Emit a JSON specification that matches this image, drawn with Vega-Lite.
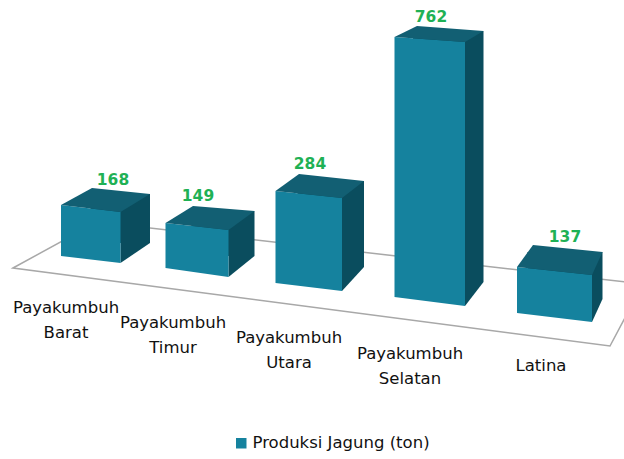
{
"$schema":"https://vega.github.io/schema/vega-lite/v6.json",
"width":624,"height":459,"padding":0,
"autosize":{"type":"fit","contains":"padding"},
"background":"#ffffff",
"config":{"view":{"stroke":null}},
"resolve":{"scale":{"shape":"independent"}},
"data":{"values":[
{"no":0,"kecamatan":"Payakumbuh Barat","produksi":168},
{"no":1,"kecamatan":"Payakumbuh Timur","produksi":149},
{"no":2,"kecamatan":"Payakumbuh Utara","produksi":284},
{"no":3,"kecamatan":"Payakumbuh Selatan","produksi":762},
{"no":4,"kecamatan":"Latina","produksi":137}
]},
"encoding":{
"x":{"field":"kecamatan","type":"nominal","sort":null,"axis":null,"scale":{"type":"band","range":[33,613],"paddingInner":0,"paddingOuter":0}},
"y":{"field":"produksi","type":"quantitative","axis":null,"scale":{"domain":[-504.2,788.76],"range":[459,0],"zero":false,"nice":false}}
},
"layer":[
{"transform":[{"filter":"datum.no==0"}],
"mark":{"type":"point","filled":false,"size":4,"opacity":1,"stroke":"#a8a8a8","strokeWidth":1.5,"shape":"M-77.75,12L6.25,-34L552.25,28L519.25,90Z","xOffset":-0.25,"yOffset":-24},
"encoding":{"y":{"datum":0,"type":"quantitative"}}},
{"mark":{"type":"bar","color":"#0a4d5e",
"width":{"expr":"[59.5,63,66.5,70.5,75][datum.no]"},
"xOffset":{"expr":"[29.25,16,7.75,9.25,10][datum.no]"},
"yOffset":{"expr":"[-26.4,-16.1,1.8,21.5,20.6][datum.no]"},
"y2Offset":{"expr":"[-37,-24,-13,2,19][datum.no]"}},
"encoding":{"y2":{"datum":0}}},
{"mark":{"type":"point","filled":true,"size":4,"opacity":1,"color":"#0a4d5e","strokeWidth":0,
"xOffset":{"expr":"[-0.25,-10,-14.25,-9.25,-0.5][datum.no]"},
"yOffset":{"expr":"[-24,-12,3,17,33][datum.no]"}},
"encoding":{"y":{"datum":0,"type":"quantitative"},
"shape":{"field":"kecamatan","type":"nominal","legend":null,"scale":{"domain":["Payakumbuh Barat","Payakumbuh Timur","Payakumbuh Utara","Payakumbuh Selatan","Latina"],"range":["M29.75,7L59.25,-13L29.75,-13Z","M31.5,9L57.5,-12L31.5,-12Z","M33.25,8L55.25,-16L33.25,-16Z","M35.25,9L53.75,-15L35.25,-15Z","M37.5,9L48,-14L37.5,-14Z"]}}}},
{"mark":{"type":"bar",
"width":{"expr":"[59.5,63,66.5,70.5,75][datum.no]"},
"xOffset":{"expr":"[-0.25,-10,-14.25,-9.25,-0.5][datum.no]"},
"yOffset":{"expr":"[-8.4,2.9,18.8,32.5,43.6][datum.no]"},
"y2Offset":{"expr":"[-24,-12,3,17,33][datum.no]"}},
"encoding":{"y2":{"datum":0},
"color":{"datum":"Produksi Jagung (ton)","type":"nominal","scale":{"range":["#15829e"]},
"legend":{"title":null,"orient":"none","legendX":233,"legendY":435,"symbolType":"square","symbolSize":110,"symbolStrokeWidth":0,"labelFont":"DejaVu Sans","labelFontSize":16.5,"labelColor":"#111111","labelLimit":300,"labelOffset":3}}}},
{"mark":{"type":"point","filled":true,"size":4,"opacity":1,"color":"#15829e","strokeWidth":0,
"xOffset":{"expr":"[-0.25,-10,-14.25,-9.25,-0.5][datum.no]"},
"yOffset":{"expr":"[-24,-12,3,17,33][datum.no]"}},
"encoding":{"y":{"datum":0,"type":"quantitative"},
"shape":{"field":"kecamatan","type":"nominal","legend":null,"scale":{"domain":["Payakumbuh Barat","Payakumbuh Timur","Payakumbuh Utara","Payakumbuh Selatan","Latina"],"range":["M-29.75,0L29.75,7L29.75,0Z","M-31.5,0L31.5,9L31.5,0Z","M-33.25,0L33.25,8L33.25,0Z","M-35.25,0L35.25,9L35.25,0Z","M-37.5,0L37.5,9L37.5,0Z"]}}}},
{"mark":{"type":"point","filled":true,"size":4,"opacity":1,"color":"#15829e","strokeWidth":0,
"xOffset":{"expr":"[-0.25,-10,-14.25,-9.25,-0.5][datum.no]"},
"yOffset":{"expr":"[-8.4,2.9,18.8,32.5,43.6][datum.no]"}},
"encoding":{
"shape":{"field":"kecamatan","type":"nominal","legend":null,"scale":{"domain":["Payakumbuh Barat","Payakumbuh Timur","Payakumbuh Utara","Payakumbuh Selatan","Latina"],"range":["M-29.75,0L-29.75,-7L29.75,0Z","M-31.5,0L-31.5,-7L31.5,0Z","M-33.25,0L-33.25,-7L33.25,0Z","M-35.25,0L-35.25,-5L35.25,0Z","M-37.5,0L-37.5,-8L37.5,0Z"]}}}},
{"mark":{"type":"point","filled":true,"size":4,"opacity":1,"color":"#125f73","strokeWidth":0,
"xOffset":{"expr":"[-0.25,-10,-14.25,-9.25,-0.5][datum.no]"},
"yOffset":{"expr":"[-8.4,2.9,18.8,32.5,43.6][datum.no]"}},
"encoding":{
"shape":{"field":"kecamatan","type":"nominal","legend":null,"scale":{"domain":["Payakumbuh Barat","Payakumbuh Timur","Payakumbuh Utara","Payakumbuh Selatan","Latina"],"range":["M-29.75,-7L29.75,0L59.25,-18L1.25,-24Z","M-31.5,-7L31.5,0L57.5,-19L-4,-24Z","M-33.25,-7L33.25,0L55.25,-17L-9.75,-24Z","M-35.25,-5L35.25,0L53.75,-11L-12.75,-16Z","M-37.5,-8L37.5,0L48,-23L-21.5,-30Z"]}}}},
{"mark":{"type":"text","font":"DejaVu Sans","fontWeight":"bold","fontSize":15.5,"color":"#1fb155","baseline":"middle","align":"center",
"xOffset":{"expr":"[22,-9,-13,-8,10][datum.no]"},
"yOffset":{"expr":"[-40.4,-31.1,-15.2,7.5,5.6][datum.no]"}},
"encoding":{"text":{"field":"produksi","type":"quantitative"}}},
{"mark":{"type":"text","font":"DejaVu Sans","fontSize":16.5,"fontWeight":500,"color":"#111111","baseline":"middle","align":"center","lineBreak":" ","lineHeight":25,
"xOffset":{"expr":"[-25,-34,-34,-29,-14][datum.no]"},
"yOffset":{"expr":"[28,43,58,74,86][datum.no]"}},
"encoding":{"y":{"datum":0,"type":"quantitative"},"text":{"field":"kecamatan","type":"nominal"}}}
]
}
